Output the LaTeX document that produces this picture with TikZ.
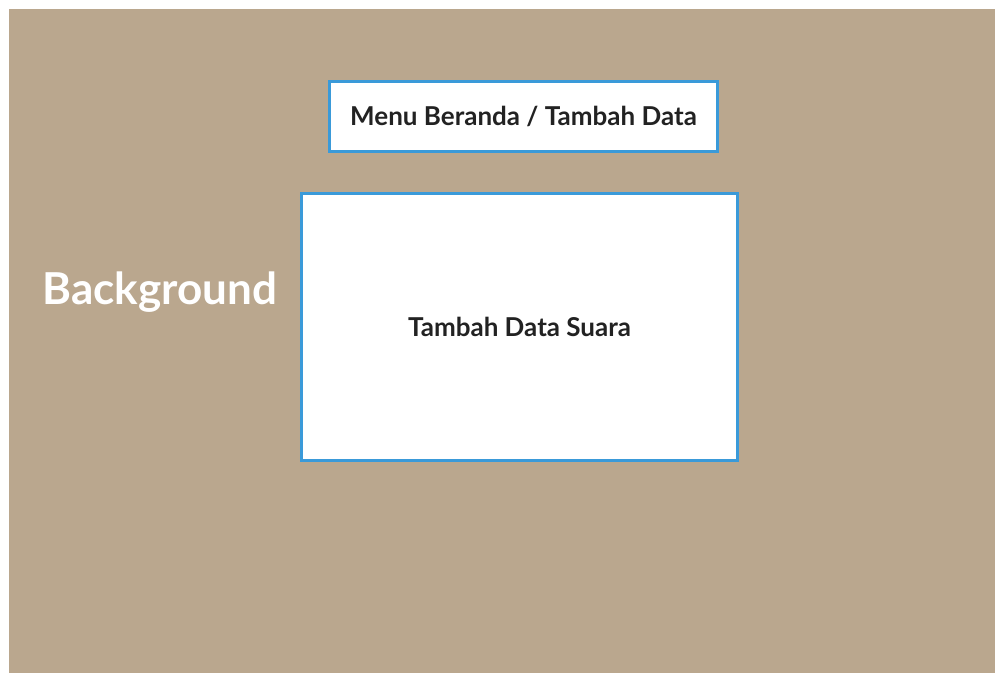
\documentclass[tikz,border=0pt]{standalone}
\usepackage{fontspec}
\setmainfont{Lato}
\definecolor{tan}{HTML}{BAA78E}
\definecolor{boxblue}{HTML}{3A9AD9}
\definecolor{ink}{HTML}{222222}
\begin{document}
\begin{tikzpicture}[x=1pt,y=-1pt,
  panel/.style={draw=boxblue, line width=3pt, fill=white, inner sep=0pt,
    font=\fontsize{26}{30}\selectfont\bfseries, text=ink}]
\useasboundingbox (0,0) rectangle (995,673);
\fill[tan] (9,9) rectangle (995,673);
\node[panel, minimum width=388pt, minimum height=70pt] (menu) at (523.5,116.5) {Menu Beranda / Tambah Data};
\node[panel, minimum width=436pt, minimum height=267pt] (main) at (519.5,327) {Tambah Data Suara};
\node[text=white, font=\fontsize{44}{50}\selectfont\bfseries, inner sep=0pt] (bg) at (160,292) {Background};
\end{tikzpicture}
\end{document}
